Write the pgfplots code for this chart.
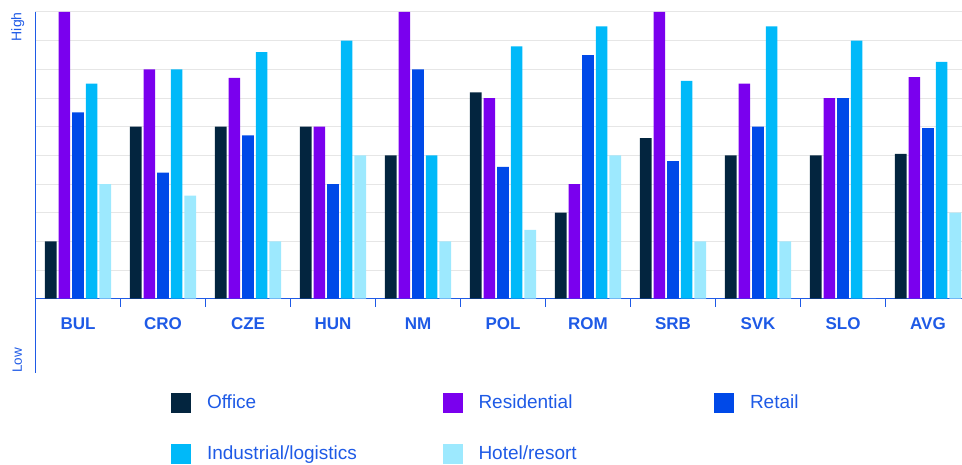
\documentclass[border=0pt]{standalone}
\usepackage{pgfplots}
\pgfplotsset{compat=1.18}
\usepackage{fontspec}
\setmainfont{Liberation Sans}
\definecolor{cOffice}{HTML}{03253F}
\definecolor{cRes}{HTML}{7A00EE}
\definecolor{cRet}{HTML}{0049E8}
\definecolor{cInd}{HTML}{00B9F9}
\definecolor{cHot}{HTML}{9DE9FE}
\definecolor{txtblue}{HTML}{1E5AE6}
\definecolor{gridgrey}{HTML}{E6E6E6}

\pgfplotstableread{
x office res retail ind hotel
0 2    10   6.5  7.5  4
1 6    8    4.4  8    3.6
2 6    7.7  5.7  8.6  2
3 6    6    4    9    5
4 5    10   8    5    2
5 7.2  7    4.6  8.8  2.4
6 3    4    8.5  9.5  5
7 5.6  10   4.8  7.6  2
8 5    7.5  6    9.5  2
9 5    7    7    9    0
10 5.05 7.73 5.95 8.26 3
}\datatable

\begin{document}
\begin{tikzpicture}[x=1pt,y=1pt]
\path[use as bounding box] (0,0) rectangle (962,464);
\begin{axis}[
  at={(35.5pt,91.3pt)}, anchor=south west,
  scale only axis, width=926.5pt, height=360.7pt,
  xmin=-0.5, xmax=10.4, ymin=-2.58, ymax=10,
  axis x line*=middle, axis y line*=left,
  axis line style={draw=txtblue, line width=1.2pt},
  ytick={1,...,10}, yticklabels={}, ytick style={draw=none},
  ymajorgrids, grid style={gridgrey, line width=1pt},
  xtick={0.5,1.5,...,9.5}, xticklabels={},
  xtick align=outside, major tick length=8pt,
  xtick style={draw=txtblue, line width=1pt},
  extra x ticks={0,...,10},
  extra x tick labels={BUL,CRO,CZE,HUN,NM,POL,ROM,SRB,SVK,SLO,AVG},
  extra x tick style={major tick length=0pt},
  xticklabel style={font=\fontsize{17}{20}\selectfont\bfseries, text=txtblue, anchor=base, yshift=-31pt},
  ybar, bar width=0.137,
  legend columns=3,
  legend style={at={(axis description cs:0.14625,-0.0554)}, anchor=north west,
    draw=none, fill=none, inner sep=0pt, outer sep=0pt,
    nodes={inner sep=0pt},
    font=\fontsize{19}{22}\selectfont, text=txtblue,
    row sep=31.7pt,
    /tikz/every odd column/.append style={column sep=16pt}},
  legend image code/.code={\fill[#1] (0pt,-10.7pt) rectangle (20pt,9.3pt);},
]
\addplot[fill=cOffice, draw=none, bar shift=-0.32] table[x=x,y=office] {\datatable};
\addlegendentry{\makebox[235.5pt][l]{Office}}
\addplot[fill=cRes, draw=none, bar shift=-0.16] table[x=x,y=res] {\datatable};
\addlegendentry{\makebox[235.5pt][l]{Residential}}
\addplot[fill=cRet, draw=none, bar shift=0] table[x=x,y=retail] {\datatable};
\addlegendentry{\makebox[235.5pt][l]{Retail}}
\addplot[fill=cInd, draw=none, bar shift=0.16] table[x=x,y=ind] {\datatable};
\addlegendentry{\makebox[235.5pt][l]{Industrial/logistics}}
\addplot[fill=cHot, draw=none, bar shift=0.32] table[x=x,y=hotel] {\datatable};
\addlegendentry{\makebox[235.5pt][l]{Hotel/resort}}
\end{axis}
\node[rotate=90, text=txtblue, font=\fontsize{14}{16}\selectfont, inner sep=0pt] at (17.8,437.2) {High};
\node[rotate=90, text=txtblue, font=\fontsize{13.5}{16}\selectfont, inner sep=0pt] at (17.2,103.7) {Low};
\end{tikzpicture}
\end{document}
